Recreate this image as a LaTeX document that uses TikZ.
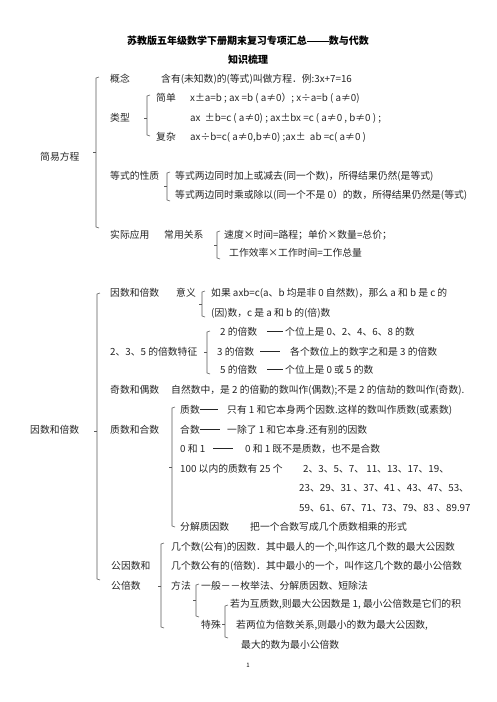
\documentclass[tikz,border=0pt]{standalone}
\usepackage{fontspec}
\setmainfont{Noto Sans CJK SC}
\newcommand\mydash[1]{\raisebox{3.3pt}{\rule{#1}{0.55pt}}}
\begin{document}
\begin{tikzpicture}[x=1pt,y=-1pt,
  txt/.style={anchor=west,inner sep=0pt,text height=8pt,text depth=1.5pt,text=black!85,font=\fontsize{9.8}{11}\selectfont},
  ttl/.style={anchor=center,inner sep=0pt,font=\fontsize{10}{12}\selectfont\bfseries},
  brk/.style={draw=black!65,line width=0.6pt}]
\newcommand\mybrace[4]{%
  \draw[brk] (#1+3,#2) -- (#1,#2+1) -- (#1,#4-1) -- (#1+3,#4);
  \draw[brk] (#1,#3) -- (#1-3.5,#3);}
\useasboundingbox[fill=white] (0,0) rectangle (496,702);
% title
\node[ttl] (title) at (248,41) {苏教版五年级数学下册期末复习专项汇总\raisebox{3.2pt}{\rule{22pt}{0.9pt}}数与代数};
\node[ttl] (sub) at (248,60) {知识梳理};
% ===== 简易方程 =====
\mybrace{96}{77}{152}{228}
\node[txt] (jyfc) at (40,157) {简易方程};
\node[txt] (gn) at (110,79) {概念};
\node[txt] (gnt) at (161,79) {含有(未知数)的(等式)叫做方程．例:3x+7=16};
\mybrace{147}{95}{118}{136}
\node[txt] (lx) at (110,118) {类型};
\node[txt] (jd) at (156,98) {简单};
\node[txt] (e1) at (190,98) {x±a=b ; ax =b ( a≠0）; x÷a=b ( a≠0)};
\node[txt] (e2) at (190,118) {ax\ \ ±b=c ( a≠0) ; ax±bx =c ( a≠0 , b≠0 ) ;};
\node[txt] (fz) at (156,137) {复杂};
\node[txt] (e3) at (190,137) {ax÷b=c( a≠0,b≠0) ;ax±\ \ ab =c( a≠0 )};
\node[txt] (dsxz) at (110,176) {等式的性质};
\mybrace{167}{172}{186}{201}
\node[txt] (ds1) at (175,176) {等式两边同时加上或减去(同一个数)，所得结果仍然(是等式)};
\node[txt] (ds2) at (175,195) {等式两边同时乘或除以(同一个不是 0）的数，所得结果仍然是(等式)};
\node[txt] (sjyy) at (110,235) {实际应用};
\node[txt] (cygx) at (164,235) {常用关系};
\mybrace{217}{231}{245}{259}
\node[txt] (gx1) at (224,235) {速度×时间=路程；单价×数量=总价；};
\node[txt] (gx2) at (229,253) {工作效率×工作时间=工作总量};
% ===== 因数和倍数 =====
\mybrace{97}{293}{431}{580}
\node[txt] (ysbs) at (30,430) {因数和倍数};
\node[txt] (ysbs2) at (110,293) {因数和倍数};
\node[txt] (yy) at (176,293) {意义};
\mybrace{202}{291}{304}{317}
\node[txt] (yy1) at (211,293) {如果 axb=c(a、b 均是非 0 自然数)，那么 a 和 b 是 c 的};
\node[txt] (yy2) at (211,313) {(因)数，c 是 a 和 b 的(倍)数};
\node[txt] (tz) at (110,352) {2、3、5 的倍数特征};
\mybrace{207}{331}{352}{374}
\node[txt] (b2) at (220,332) {2 的倍数};
\node[txt] (d2) at (267,332) {\mydash{16pt}};
\node[txt] (t2) at (285,332) {个位上是 0、2、4、6、8 的数};
\node[txt] (b3) at (217,352) {3 的倍数};
\node[txt] (d3) at (260,352) {\mydash{20pt}};
\node[txt] (t3) at (290,352) {各个数位上的数字之和是 3 的倍数};
\node[txt] (b5) at (220,370) {5 的倍数};
\node[txt] (d5) at (267,370) {\mydash{16pt}};
\node[txt] (t5) at (285,370) {个位上是 0 或 5 的数};
\node[txt] (jo) at (110,390) {奇数和偶数};
\node[txt] (jot) at (171,390) {自然数中，是 2 的倍勤的数叫作(偶数);不是 2 的信劫的数叫作(奇数).};
\node[txt] (zhhs) at (110,430) {质数和合数};
\mybrace{172}{407}{467}{527}
\node[txt] (zs) at (180,410) {质数\mydash{18pt}};
\node[txt] (zst) at (227,410) {只有 1 和它本身两个因数.这样的数叫作质数(或素数)};
\node[txt] (hs) at (180,430) {合数\mydash{20pt}};
\node[txt] (hst) at (227,430) {一除了 1 和它本身.还有别的因数};
\node[txt] (l01) at (180,449) {0 和 1};
\node[txt] (d01) at (213,449) {\mydash{20pt}};
\node[txt] (t01) at (245,449) {0 和 1 既不是质数，也不是合数};
\node[txt] (p100) at (180,469) {100 以内的质数有 25 个};
\node[txt] (pr1) at (303,469) {2、3、5、7、 11、13、17、19、};
\node[txt] (pr2) at (299,488) {23、29、31 、37、41 、43、47、53、};
\node[txt] (pr3) at (299,508) {59、61、67、71、73、79、83 、89.97};
\node[txt] (fj) at (180,527) {分解质因数};
\node[txt] (fjt) at (250,527) {把一个合数写成几个质数相乘的形式};
\node[txt] (gy1) at (111,566) {公因数和};
\node[txt] (gy2) at (111,586) {公倍数};
\mybrace{161}{543}{586}{628}
\node[txt] (gyt1) at (171,547) {几个数(公有)的因数．其中最人的一个,叫作这几个数的最大公因数};
\node[txt] (gyt2) at (171,566) {几个数公有的(倍数)．其中最小的一个，叫作这几个数的最小公倍数};
\node[txt] (ff) at (171,586) {方法};
\mybrace{196}{584}{600}{617}
\node[txt] (ff1) at (201,586) {一般－－枚举法、分解质因数、短除法};
\node[txt] (ts) at (201,625) {特殊};
\mybrace{225}{605}{624}{638}
\node[txt] (ts1) at (230,604) {若为互质数,则最大公因数是 1, 最小公倍数是它们的积};
\node[txt] (ts2) at (236,625) {若两位为倍数关系,则最小的数为最大公因数,};
\node[txt] (ts3) at (241,645) {最大的数为最小公倍数};
\node[inner sep=0pt,font=\fontsize{6}{7}\selectfont] (pg) at (248,665) {1};
\end{tikzpicture}
\end{document}
